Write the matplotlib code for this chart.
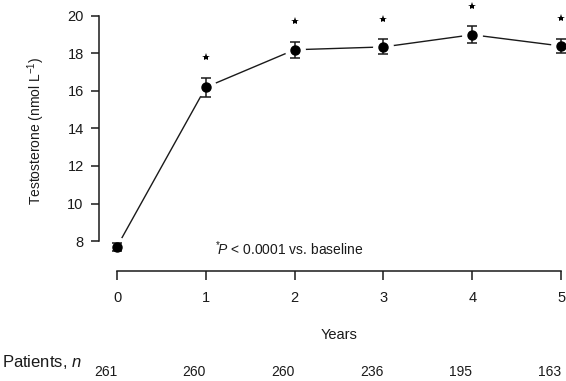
import matplotlib
matplotlib.use("Agg")
import matplotlib.pyplot as plt
import matplotlib.transforms as mtransforms
import numpy as np

# DATA
YEARS = [0, 1, 2, 3, 4, 5]
TESTOSTERONE = [7.7, 16.2, 18.2, 18.35, 19.0, 18.4]
TESTOSTERONE_ERR = [0.22, 0.5, 0.42, 0.4, 0.45, 0.37]
SIGNIFICANT = [False, True, True, True, True, True]
PATIENTS = [261, 260, 260, 236, 195, 163]

# GLOBALS
INK = "#1a1a1a"
STAR_OFFSET = 1.1


def main():
    fig = plt.figure(figsize=(5.66, 3.81), dpi=100)
    ax = fig.add_axes([0.1749, 0.2887, 0.8242, 0.7087])
    ax.set(xlim=(-0.203, 5.05), ylim=(6.4, 20.8))

    draw_series(ax)
    style_axes(ax)
    draw_patient_row(fig, ax)

    # Footnote inside the plot
    ax.text(1.1, 7.57, r"$^{*}\!P$ < 0.0001 vs. baseline",
            ha="left", va="center", fontsize=10, color=INK)

    fig.savefig("out.png", dpi=100)


def draw_series(ax):
    """R-style 'b' plot: line with gaps round the points, plus error bars"""
    x = np.array(YEARS, dtype=float)
    y = np.array(TESTOSTERONE)
    err = np.array(TESTOSTERONE_ERR)

    ax.plot(x, y, color=INK, lw=1.0, zorder=1)
    # white halo to break the line near each point
    ax.plot(x, y, ls="none", marker="o", ms=14, mfc="white",
            mec="white", zorder=2)
    ax.errorbar(x, y, yerr=err, fmt="o", ms=6.5, color="black",
                ecolor=INK, elinewidth=1.1, capsize=3.3, capthick=1.1,
                zorder=3)

    sig = np.array(SIGNIFICANT)
    ax.plot(x[sig], (y + err)[sig] + STAR_OFFSET, ls="none", marker="*",
            ms=6, color="black", mew=0, zorder=3)


def style_axes(ax):
    for side in ("top", "right"):
        ax.spines[side].set_visible(False)
    ax.spines["left"].set_bounds(8, 20)
    ax.spines["bottom"].set_bounds(0, 5)
    for side in ("left", "bottom"):
        ax.spines[side].set_color(INK)
        ax.spines[side].set_linewidth(1.1)

    ax.set_xticks(YEARS)
    ax.set_yticks(np.arange(8, 21, 2))
    ax.tick_params(axis="both", direction="out", color=INK, width=1.1,
                   labelsize=10.5, labelcolor=INK)
    ax.tick_params(axis="y", length=6, pad=5)
    ax.tick_params(axis="x", length=6.5, pad=8)

    ax.set_xlabel("Years", fontsize=10.5, color=INK)
    ax.xaxis.set_label_coords(0.515, -0.21)
    ax.xaxis.label.set_va("top")

    ax.set_ylabel(r"Testosterone (nmol L$^{-1}$)", fontsize=10, color=INK)
    ax.yaxis.set_label_coords(-0.135, 0.52)
    ax.yaxis.label.set_va("center")


def draw_patient_row(fig, ax):
    trans = mtransforms.blended_transform_factory(ax.transData, ax.transAxes)
    for year, count in zip(YEARS, PATIENTS):
        ax.text(year, -0.374, str(count), transform=trans, ha="right",
                va="center", fontsize=10, color=INK, clip_on=False)
    fig.text(0.003, 0.05, r"Patients, $n$", ha="left", va="center",
             fontsize=12, color=INK)


def set_plot_parameters():
    """Utility - Helvetica-like text everywhere, mathtext included"""
    plt.rcParams["font.family"] = ["Liberation Sans", "DejaVu Sans"]
    plt.rcParams["mathtext.fontset"] = "custom"
    plt.rcParams["mathtext.rm"] = "Liberation Sans"
    plt.rcParams["mathtext.it"] = "Liberation Sans:italic"
    plt.rcParams["mathtext.bf"] = "Liberation Sans:bold"


if __name__ == "__main__":
    set_plot_parameters()
    main()
